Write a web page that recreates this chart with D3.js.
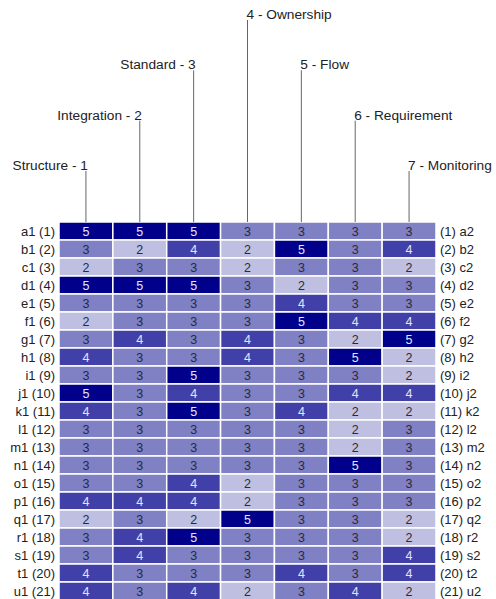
<!DOCTYPE html>
<html>
<head>
<meta charset="utf-8">
<script src="https://cdn.jsdelivr.net/npm/d3@7"></script>
<style>
  body { margin: 0; background: #fff; }
  svg { display: block; font-family: "Liberation Sans", Arial, sans-serif; }
</style>
</head>
<body>
<svg id="chart" width="496" height="599"></svg>
<script>
const columns = ["Structure - 1", "Integration - 2", "Standard - 3", "4 - Ownership", "5 - Flow", "6 - Requirement", "7 - Monitoring"];
const leftLabels = ["a1 (1)","b1 (2)","c1 (3)","d1 (4)","e1 (5)","f1 (6)","g1 (7)","h1 (8)","i1 (9)","j1 (10)","k1 (11)","l1 (12)","m1 (13)","n1 (14)","o1 (15)","p1 (16)","q1 (17)","r1 (18)","s1 (19)","t1 (20)","u1 (21)"];
const rightLabels = ["(1) a2","(2) b2","(3) c2","(4) d2","(5) e2","(6) f2","(7) g2","(8) h2","(9) i2","(10) j2","(11) k2","(12) l2","(13) m2","(14) n2","(15) o2","(16) p2","(17) q2","(18) r2","(19) s2","(20) t2","(21) u2"];
const values = [
  [5,5,5,3,3,3,3],
  [3,2,4,2,5,3,4],
  [2,3,3,2,3,3,2],
  [5,5,5,3,2,3,3],
  [3,3,3,3,4,3,3],
  [2,3,3,3,5,4,4],
  [3,4,3,4,3,2,5],
  [4,3,3,4,3,5,2],
  [3,3,5,3,3,3,2],
  [5,3,4,3,3,4,4],
  [4,3,5,3,4,2,2],
  [3,3,3,3,3,2,3],
  [3,3,3,3,3,2,3],
  [3,3,3,3,3,5,3],
  [3,3,4,2,3,3,3],
  [4,4,4,2,3,3,3],
  [2,3,2,5,3,3,2],
  [3,4,5,3,3,3,2],
  [3,4,3,3,3,3,4],
  [4,3,3,3,4,3,4],
  [4,3,4,2,3,4,2]
];
// label heights (tiers) for column headers
const labelTier = [3,2,1,0,1,2,3];

const svg = d3.select("#chart");
const gridLeft = 59, gridRight = 436, gridTop = 222, rowH = 18;

const x = d3.scaleBand().domain(d3.range(columns.length)).range([gridLeft, gridRight]);
const y = d3.scaleBand().domain(d3.range(leftLabels.length)).range([gridTop, gridTop + rowH * leftLabels.length]);
const color = d3.scaleLinear().domain([1,5]).range(["#ffffff","#00008B"]).interpolate(d3.interpolateRgb);
const tierY = d3.scaleLinear().domain([0,3]).range([20, 171]);

const cells = [];
values.forEach((row, i) => row.forEach((v, j) => cells.push({i, j, v})));

svg.append("g").selectAll("rect").data(cells).join("rect")
  .attr("x", d => x(d.j))
  .attr("y", d => y(d.i))
  .attr("width", x.bandwidth())
  .attr("height", y.bandwidth())
  .attr("fill", d => color(d.v))
  .attr("stroke", "#ffffff")
  .attr("stroke-width", 1.5);

svg.append("g").selectAll("text").data(cells).join("text")
  .attr("x", d => x(d.j) + x.bandwidth() / 2)
  .attr("y", d => y(d.i) + y.bandwidth() / 2)
  .attr("dy", "0.36em")
  .attr("text-anchor", "middle")
  .attr("font-size", 12.5)
  .attr("fill", d => d.v >= 4 ? "#e4e4f4" : "#2a2a3a")
  .text(d => d.v);

// row labels
svg.append("g").selectAll("text").data(leftLabels).join("text")
  .attr("x", gridLeft - 4)
  .attr("y", (d, i) => y(i) + y.bandwidth() / 2)
  .attr("dy", "0.36em")
  .attr("text-anchor", "end")
  .attr("font-size", 13)
  .attr("fill", "#222")
  .text(d => d);

svg.append("g").selectAll("text").data(rightLabels).join("text")
  .attr("x", gridRight + 4)
  .attr("y", (d, i) => y(i) + y.bandwidth() / 2)
  .attr("dy", "0.36em")
  .attr("text-anchor", "start")
  .attr("font-size", 13)
  .attr("fill", "#222")
  .text(d => d);

// column headers with leader lines
const hdr = svg.append("g");
columns.forEach((c, j) => {
  const cx = x(j) + x.bandwidth() / 2;
  const ty = tierY(labelTier[j]);
  hdr.append("line")
    .attr("x1", cx).attr("x2", cx)
    .attr("y1", ty).attr("y2", gridTop)
    .attr("stroke", "#666").attr("stroke-width", 1);
  hdr.append("text")
    .attr("x", j < 3 ? cx + 2 : cx - 1)
    .attr("y", ty - 1)
    .attr("text-anchor", j < 3 ? "end" : "start")
    .attr("font-size", 13.7)
    .attr("fill", "#222")
    .text(c);
});
</script>
</body>
</html>
